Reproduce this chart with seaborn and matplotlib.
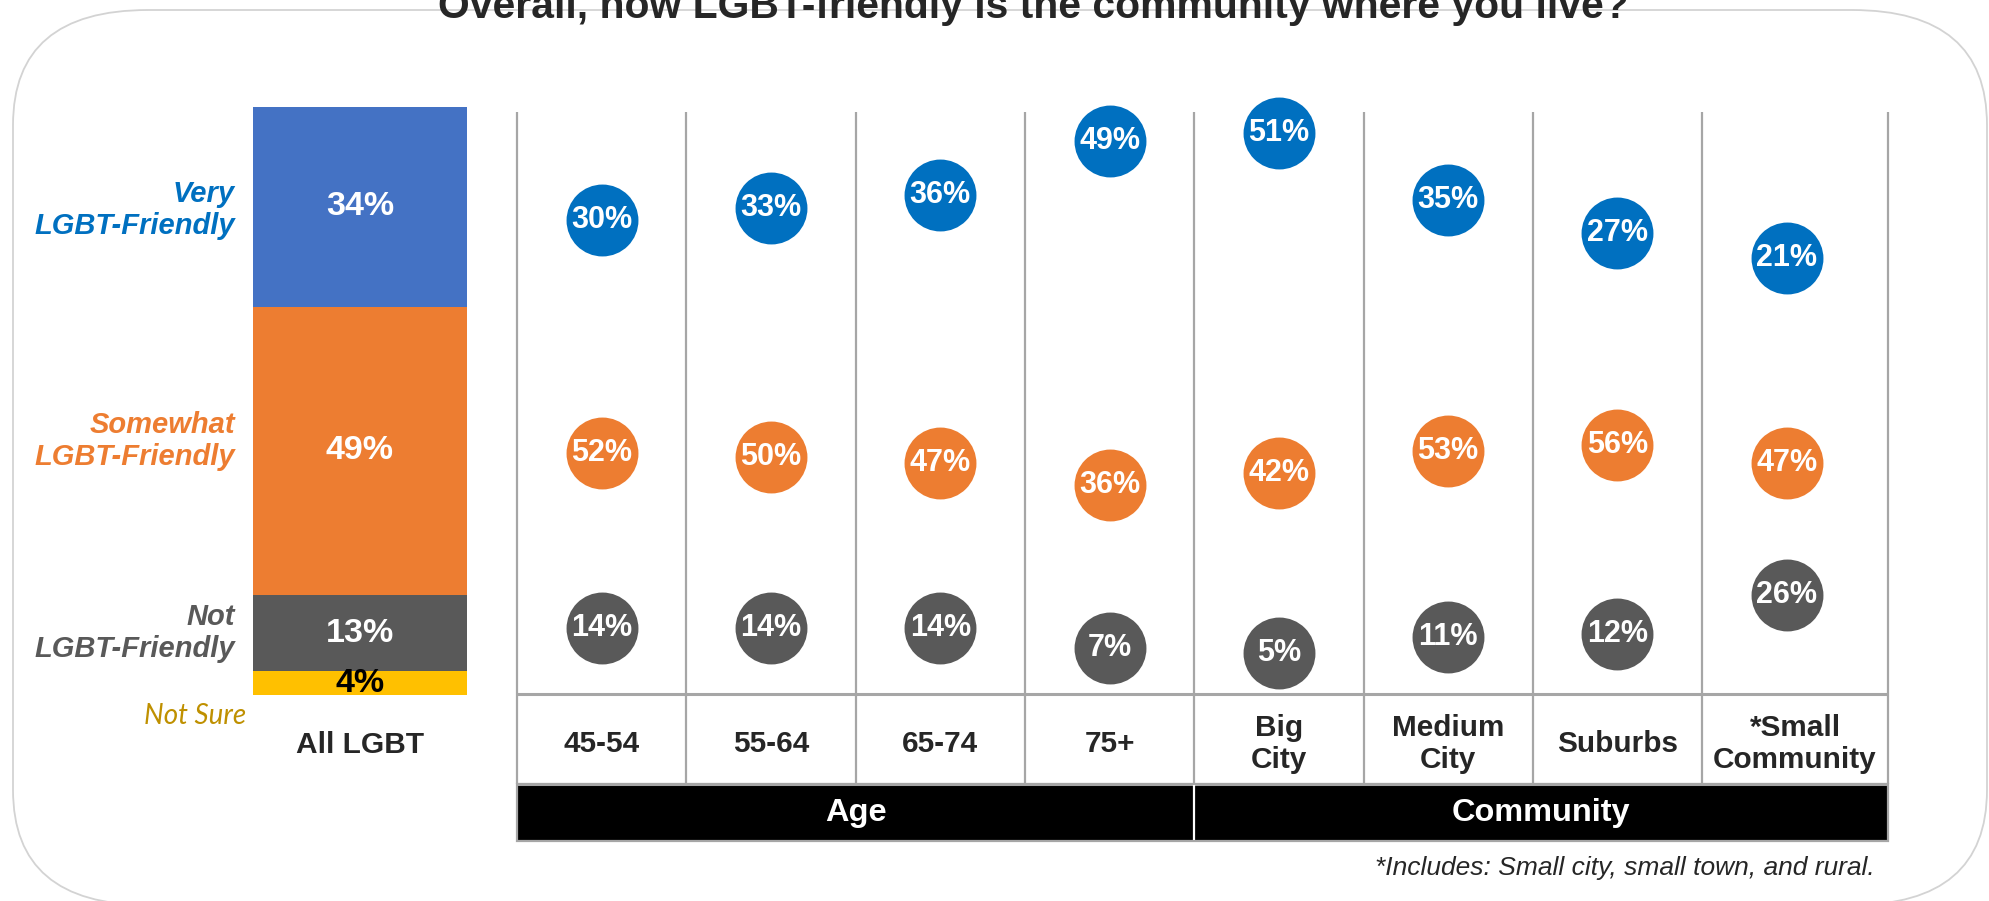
import matplotlib.pyplot as plt
import numpy as np
import pandas as pd
import seaborn as sns
from matplotlib.patches import FancyBboxPatch, Rectangle
from matplotlib.transforms import Affine2D

# --- data -------------------------------------------------------------------
title = "Overall, how LGBT-friendly is the community where you live?"
levels = ["Very\nLGBT-Friendly", "Somewhat\nLGBT-Friendly", "Not\nLGBT-Friendly", "Not Sure"]
all_lgbt = [34, 49, 13, 4]

groups = ["45-54", "55-64", "65-74", "75+", "Big\nCity", "Medium\nCity", "Suburbs", "*Small\nCommunity"]
sections = ["Age", "Community"]
section_sizes = [4, 4]

very = [30, 33, 36, 49, 51, 35, 27, 21]
somewhat = [52, 50, 47, 36, 42, 53, 56, 47]
not_friendly = [14, 14, 14, 7, 5, 11, 12, 26]

footnote = "*Includes: Small city, small town, and rural."

# --- style ------------------------------------------------------------------
BLUE_BAR = "#4472C4"
BLUE = "#0070C0"
ORANGE = "#ED7D31"
GRAY = "#595959"
YELLOW = "#FFC000"
GOLD = "#BF9000"
LINE = "#A6A6A6"

W, H = 1990, 901


def rect(x0, y0, x1, y1):
    """Figure-fraction axes rect from pixel box measured from the top-left."""
    return [x0 / W, 1 - y1 / H, (x1 - x0) / W, (y1 - y0) / H]


sns.set_style("white")
plt.rcParams["font.family"] = ["Liberation Sans", "DejaVu Sans"]

fig = plt.figure(figsize=(W / 100, H / 100), dpi=100)

# rounded slide frame
sx = 135 / 115
frame = FancyBboxPatch(
    (13 / sx, -4), (1987 - 13) / sx, 895,
    boxstyle="round,pad=0,rounding_size=115",
    transform=Affine2D().scale(sx / 100, 1 / 100) + fig.dpi_scale_trans,
    facecolor="none", edgecolor="#D3D3D3", linewidth=1.3,
)
fig.add_artist(frame)

fig.text(1033 / W, 1 - 18 / H, title, ha="center", va="baseline",
         fontsize=29.4, fontweight="bold")

# --- All LGBT stacked bar ----------------------------------------------------
ax_bar = fig.add_axes(rect(253, 107, 467, 695))
stack = all_lgbt[::-1]
bottoms = np.concatenate([[0], np.cumsum(stack)[:-1]])
bar_colors = [YELLOW, GRAY, ORANGE, BLUE_BAR]
ax_bar.bar([0] * len(stack), stack, bottom=bottoms, width=1, color=bar_colors, linewidth=0)
for v, b, c in zip(stack, bottoms, bar_colors):
    ax_bar.text(0, b + v / 2, f"{v}%", ha="center", va="center",
                color="black" if c == YELLOW else "white",
                fontsize=24.5, fontweight="bold", clip_on=False)
ax_bar.set_xlim(-0.5, 0.5)
ax_bar.set_ylim(0, 100)
ax_bar.axis("off")

label_pos = [(235, 210, BLUE), (235, 441, ORANGE), (235, 633, GRAY)]
for lab, (x, y, c) in zip(levels[:3], label_pos):
    fig.text(x / W, 1 - y / H, lab, ha="right", va="center", multialignment="right",
             color=c, fontsize=21, fontweight="bold", style="italic", linespacing=1.16)
fig.text(246 / W, 1 - 716 / H, levels[3], ha="right", va="center", color=GOLD,
         fontsize=20, style="italic", family=["Lato", "DejaVu Sans"])
fig.text(360 / W, 1 - 745 / H, "All LGBT", ha="center", va="center",
         fontsize=21.5, fontweight="bold")

# --- grid + table ------------------------------------------------------------
widths = [1] * (len(groups) - 1) + [1.098]
edges = -0.5 + np.concatenate([[0], np.cumsum(widths)])
centers = (edges[:-1] + edges[1:]) / 2

ax_grid = fig.add_axes(rect(517, 112, 1888, 841))
ax_grid.set_xlim(edges[0], edges[-1])
ax_grid.set_ylim(841, 112)
ax_grid.axis("off")
ax_grid.vlines(edges, 112, 784, color=LINE, lw=1.6, clip_on=False)
ax_grid.hlines([694, 784], edges[0], edges[-1], color=LINE, lw=2.2, clip_on=False)
ax_grid.add_patch(Rectangle((edges[0], 784), edges[-1] - edges[0], 57,
                            facecolor="black", edgecolor=LINE, lw=1.6, clip_on=False))
sec_edges = np.concatenate([[0], np.cumsum(section_sizes)])
for i, sec in enumerate(sections):
    x0, x1 = edges[sec_edges[i]], edges[sec_edges[i + 1]]
    ax_grid.text((x0 + x1) / 2, 813, sec, ha="center", va="center", color="white",
                 fontsize=23.4, fontweight="bold")
    if i > 0:
        ax_grid.vlines(x0, 785, 840, color="white", lw=1.6)
for cx, g in zip(centers, groups):
    ax_grid.text(cx, 744, g, ha="center", va="center", fontsize=21.4,
                 fontweight="bold", linespacing=1.15)

# --- dot rows, each with its own value band -----------------------------------
df = pd.DataFrame({
    "pos": np.tile(np.arange(len(groups)), 3),
    "level": np.repeat(["very", "somewhat", "not"], len(groups)),
    "value": very + somewhat + not_friendly,
})
bands = {
    "very": (116, 283, 15, 55, BLUE),
    "somewhat": (437, 497, 30, 60, ORANGE),
    "not": (584, 667, 0, 30, GRAY),
}
for lvl, (top, bottom, lo, hi, c) in bands.items():
    ax = fig.add_axes(rect(517, top, 1888, bottom))
    ax.patch.set_alpha(0)
    sub = df[df["level"] == lvl]
    sns.scatterplot(data=sub, x="pos", y="value", s=2680, color=c, linewidth=0,
                    ax=ax, clip_on=False, legend=False)
    for x, v in zip(sub["pos"], sub["value"]):
        ax.text(x, v, f"{v}%", ha="center", va="center", color="white",
                fontsize=22, fontweight="bold", clip_on=False)
    ax.set_xlim(edges[0], edges[-1])
    ax.set_ylim(lo, hi)
    ax.axis("off")

fig.text(1875 / W, 1 - 868 / H, footnote, ha="right", va="center",
         fontsize=19, style="italic")

fig.savefig("out.png", dpi=100)
